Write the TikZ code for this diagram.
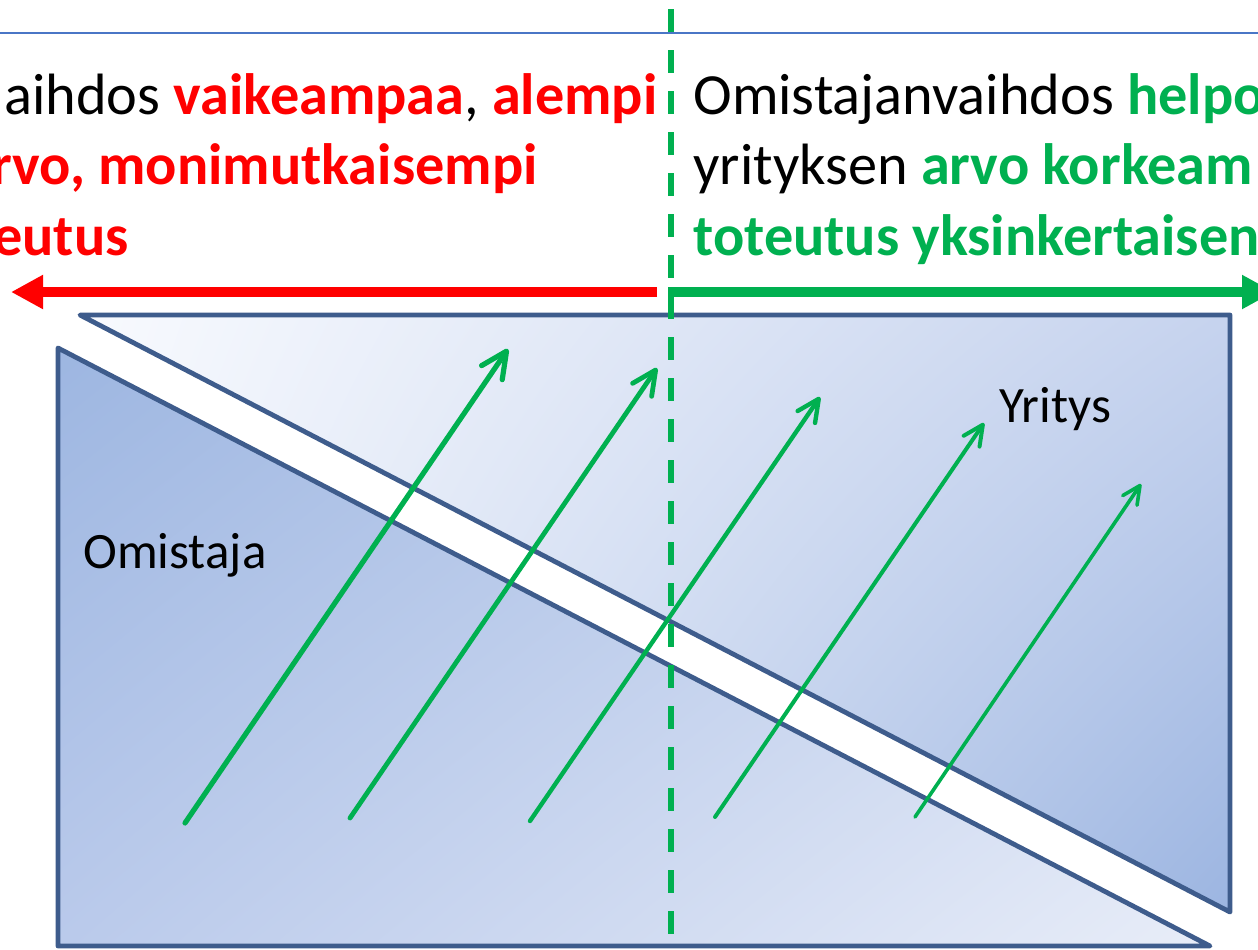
\documentclass[tikz,border=0pt]{standalone}
\usepackage{fontspec}
\setmainfont{Carlito}
\usetikzlibrary{arrows.meta,shadings}
\definecolor{edgeblue}{HTML}{3E5C8C}
\definecolor{topline}{HTML}{4A76C6}
\definecolor{tgreen}{HTML}{00B050}
\definecolor{tred}{HTML}{FF0000}
\definecolor{uUL}{HTML}{F8FAFE}
\definecolor{uUR}{HTML}{C6D3EE}
\definecolor{uLL}{HTML}{F2F5FC}
\definecolor{uLR}{HTML}{9CB5E1}
\definecolor{lUL}{HTML}{9DB6E1}
\definecolor{lUR}{HTML}{C8D5EF}
\definecolor{lLL}{HTML}{BACAEB}
\definecolor{lLR}{HTML}{E8EDF8}
\newcommand\myred[1]{\textcolor{tred}{\bfseries #1}}
\newcommand\mygreen[1]{\textcolor{tgreen}{\bfseries #1}}
\begin{document}
\begin{tikzpicture}[x=0.5pt,y=-0.5pt,
  shapeedge/.style={draw=edgeblue,line width=2.4pt,line join=round},
  growth/.style={draw=tgreen,line cap=round,line join=round,-{Straight Barb[length=0pt 5,width=0pt 4.8,round]}},
  headline/.style={inner sep=0pt,font=\fontsize{29.15}{35}\selectfont},
  partname/.style={inner sep=0pt,anchor=base west,font=\fontsize{25.5}{30}\selectfont}]
\useasboundingbox (0,0) rectangle (1258,949);
\clip (0,0) rectangle (1258,949);
% company (upper) shape
\coordinate (uA) at (80,315);
\coordinate (uB) at (1230,315);
\coordinate (uC) at (1230,912);
\shadedraw[shapeedge,upper left=uUL,upper right=uUR,lower left=uLL,lower right=uLR] (uA) -- (uB) -- (uC) -- cycle;
% owner (lower) shape
\coordinate (lA) at (58,348);
\coordinate (lB) at (1210,946);
\coordinate (lC) at (58,946);
\shadedraw[shapeedge,upper left=lUL,upper right=lUR,lower left=lLL,lower right=lLR] (lA) -- (lB) -- (lC) -- cycle;
% top rule
\coordinate (t1) at (0,33);
\coordinate (t2) at (1258,33);
\draw[topline,line width=1pt] (t1) -- (t2);
% green growth arrows
\coordinate (g1s) at (185,823); \coordinate (g1e) at (508,349);
\coordinate (g2s) at (350,818); \coordinate (g2e) at (657,368);
\coordinate (g3s) at (530,821); \coordinate (g3e) at (820,397);
\coordinate (g4s) at (715,817); \coordinate (g4e) at (984,423);
\coordinate (g5s) at (915,817); \coordinate (g5e) at (1141,484);
\draw[growth,line width=2.6pt] (g1s) -- (g1e);
\draw[growth,line width=2.4pt] (g2s) -- (g2e);
\draw[growth,line width=2.2pt] (g3s) -- (g3e);
\draw[growth,line width=2.0pt] (g4s) -- (g4e);
\draw[growth,line width=1.8pt] (g5s) -- (g5e);
% dashed divider
\coordinate (dtop) at (671,9);
\coordinate (dbot) at (671,934);
\draw[tgreen,line width=3pt,dash pattern=on 11.5pt off 9pt] (dtop) -- (dbot);
% direction arrows
\coordinate (rs) at (657,292); \coordinate (re) at (11,292);
\coordinate (gs) at (668,292); \coordinate (ge) at (1274,292);
\draw[tred,line width=5pt,-{Triangle[length=16pt,width=16pt]}] (rs) -- (re);
\draw[tgreen,line width=5pt,-{Triangle[length=16pt,width=16pt]}] (gs) -- (ge);
% texts
\node[headline,anchor=base east] (L1) at (658,114) {aihdos \myred{vaikeampaa}, \myred{alempi}};
\node[headline,anchor=base east] (L2) at (538,184) {\myred{rvo, monimutkaisempi}};
\node[headline,anchor=base east] (L3) at (129,255) {\myred{eutus}};
\node[headline,anchor=base west] (R1) at (693,114) {Omistajanvaihdos \mygreen{helpo}};
\node[headline,anchor=base west] (R2) at (693,184) {yrityksen \mygreen{arvo korkeam}};
\node[headline,anchor=base west] (R3) at (693,255) {\mygreen{toteutus yksinkertaisen}};
\node[partname] (owner) at (83,568) {Omistaja};
\node[partname] (firm) at (999,422) {Yritys};
\end{tikzpicture}
\end{document}
